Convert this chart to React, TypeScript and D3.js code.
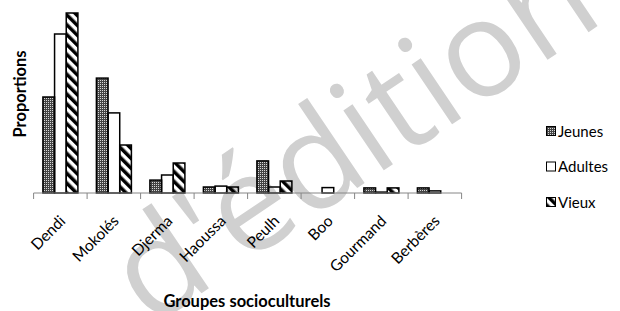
import React, { useRef, useEffect } from "react";
import * as d3 from "d3";

// groupes socioculturels (axe X)
const groupes = ["Dendi", "Mokolés", "Djerma", "Haoussa", "Peulh", "Boo", "Gourmand", "Berbères"];
const series = ["Jeunes", "Adultes", "Vieux"];

// proportions (en %)
const jeunes = [32, 38.3, 4.3, 2, 10.7, 0, 1.7, 1.7];
const adultes = [53, 26.7, 6, 2.3, 2, 1.8, 0.3, 0.7];
const vieux = [60, 16, 10, 2, 4, 0, 1.7, 0];

const WIDTH = 620;
const HEIGHT = 311;

function drawChart(svgElement: SVGSVGElement) {
  const svg = d3.select(svgElement);
  svg.selectAll("*").remove();

  const font = "Lato, 'Open Sans', sans-serif";
  const values = [jeunes, adultes, vieux];

  // motifs de remplissage
  const defs = svg.append("defs");
  const dots = defs
    .append("pattern")
    .attr("id", "pat-jeunes")
    .attr("patternUnits", "userSpaceOnUse")
    .attr("width", 2)
    .attr("height", 2);
  dots.append("rect").attr("width", 2).attr("height", 2).attr("fill", "#444");
  dots.append("rect").attr("width", 1).attr("height", 1).attr("fill", "#d8d8d8");

  const stripes = defs
    .append("pattern")
    .attr("id", "pat-vieux")
    .attr("patternUnits", "userSpaceOnUse")
    .attr("width", 7)
    .attr("height", 7)
    .attr("patternTransform", "rotate(-45)");
  stripes.append("rect").attr("width", 3.5).attr("height", 7).attr("fill", "#000");

  const fills = ["url(#pat-jeunes)", "none", "url(#pat-vieux)"];

  // filigrane
  svg
    .append("text")
    .attr("transform", "translate(150, 328) rotate(-34)")
    .attr("font-family", "'Open Sans', sans-serif")
    .attr("font-size", 135)
    .attr("fill", "#d0d0d0")
    .text("d'édition");

  const x = d3.scaleBand<string>().domain(groupes).range([33.6, 461.6]);
  const xs = d3.scaleBand<string>().domain(series).range([9.3, 44.3]);
  const y = d3.scaleLinear().domain([0, 60]).range([193, 13]);

  // barres
  series.forEach((s, si) => {
    svg
      .append("g")
      .selectAll("rect")
      .data(groupes.filter((_, i) => values[si][i] > 0))
      .enter()
      .append("rect")
      .attr("x", (g) => (x(g) as number) + (xs(s) as number))
      .attr("width", xs.bandwidth())
      .attr("y", (g) => y(values[si][groupes.indexOf(g)]))
      .attr("height", (g) => y(0) - y(values[si][groupes.indexOf(g)]))
      .attr("fill", fills[si])
      .attr("stroke", "#000")
      .attr("stroke-width", 1.5);
  });

  // axe X
  const axis = svg.append("g").attr("stroke", "#868686").attr("stroke-width", 1);
  axis
    .append("line")
    .attr("x1", x.range()[0])
    .attr("x2", x.range()[1])
    .attr("y1", y(0))
    .attr("y2", y(0));
  const bounds = groupes.map((g) => x(g) as number).concat([x.range()[1]]);
  axis
    .selectAll("line.tick")
    .data(bounds)
    .enter()
    .append("line")
    .attr("class", "tick")
    .attr("x1", (d) => d)
    .attr("x2", (d) => d)
    .attr("y1", y(0))
    .attr("y2", y(0) + 6);

  // étiquettes inclinées
  svg
    .append("g")
    .selectAll("text")
    .data(groupes)
    .enter()
    .append("text")
    .attr(
      "transform",
      (g) => `translate(${(x(g) as number) + x.bandwidth() / 2 + 6}, 222) rotate(-45)`
    )
    .attr("text-anchor", "end")
    .attr("font-family", font)
    .attr("font-size", 15.5)
    .attr("fill", "#000")
    .text((g) => g);

  // titres des axes
  svg
    .append("text")
    .attr("x", 247)
    .attr("y", 307)
    .attr("text-anchor", "middle")
    .attr("font-family", font)
    .attr("font-weight", "bold")
    .attr("font-size", 16.5)
    .text("Groupes socioculturels");

  svg
    .append("text")
    .attr("transform", "translate(26, 94) rotate(-90)")
    .attr("text-anchor", "middle")
    .attr("font-family", font)
    .attr("font-weight", "bold")
    .attr("font-size", 16.5)
    .text("Proportions");

  // légende
  const legend = svg
    .append("g")
    .selectAll("g")
    .data(series)
    .enter()
    .append("g")
    .attr("transform", (_, i) => `translate(546, ${126 + i * 35.5})`);
  legend
    .append("rect")
    .attr("x", 0.5)
    .attr("y", 0.5)
    .attr("width", 9)
    .attr("height", 9)
    .attr("fill", (_, i) => (i === 1 ? "#fff" : fills[i]))
    .attr("stroke", "#000")
    .attr("stroke-width", 1);
  legend
    .append("text")
    .attr("x", 12)
    .attr("y", 10.5)
    .attr("font-family", font)
    .attr("font-size", 15)
    .text((d) => d);
}

const App: React.FunctionComponent = function () {
  const svgRef = useRef<SVGSVGElement>(null);

  useEffect(() => {
    if (svgRef.current == null) {
      return;
    }
    drawChart(svgRef.current);
  }, []);

  return (
    <svg
      ref={svgRef}
      width={WIDTH}
      height={HEIGHT}
      style={{ position: "absolute", left: 0, top: 0, background: "#fff" }}
    ></svg>
  );
};

export default App;
